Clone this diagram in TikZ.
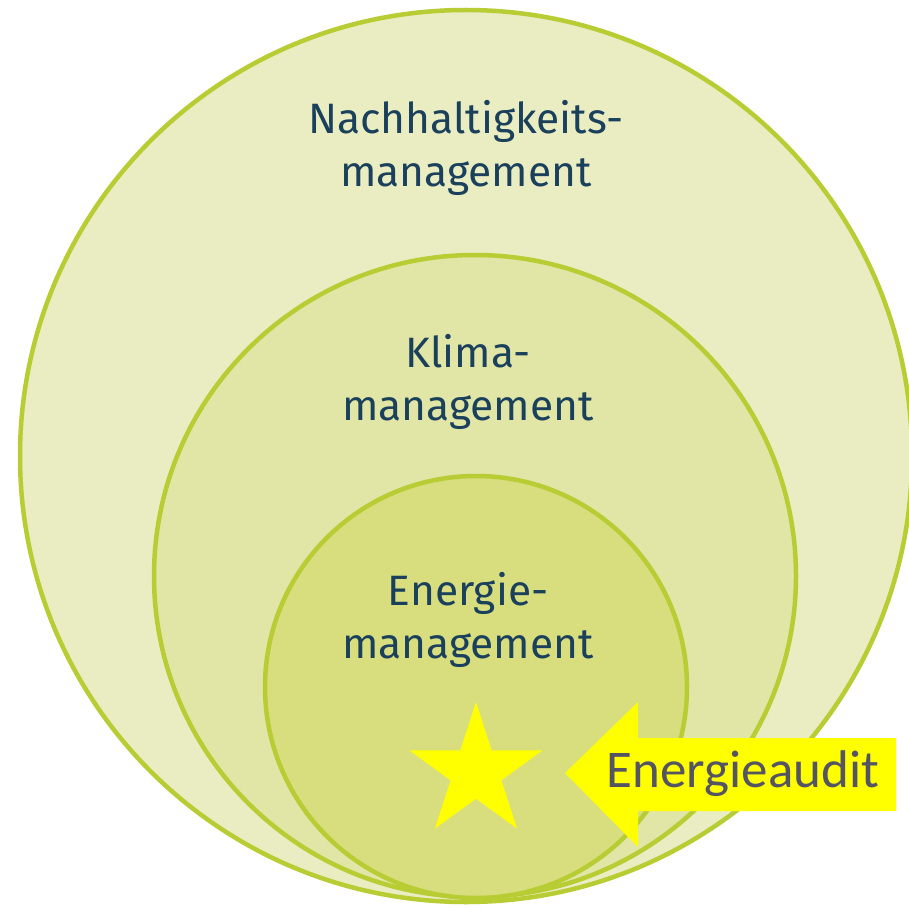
\documentclass[tikz,border=0pt]{standalone}
\usepackage{fontspec}
\setmainfont{Fira Sans}
\newfontfamily\calfont{Carlito}
\definecolor{ringline}{RGB}{184,204,52}
\definecolor{fillA}{RGB}{234,237,193}
\definecolor{fillB}{RGB}{225,230,166}
\definecolor{fillC}{RGB}{216,222,126}
\definecolor{labelcol}{RGB}{26,64,92}
\definecolor{audittext}{RGB}{84,84,98}
\definecolor{hiyellow}{RGB}{255,255,0}
\tikzset{
  ring/.style={draw=ringline, line width=4.5pt},
  ringlabel/.style={text=labelcol, align=center, font=\fontsize{42.5}{53}\selectfont, inner sep=0pt},
}
\begin{document}
\begin{tikzpicture}[x=1pt,y=-1pt]
\useasboundingbox (0,0) rectangle (909,909);
\fill[white] (0,0) rectangle (909,909);
% circles
\draw[ring, fill=fillA] (466,456) circle (446);
\draw[ring, fill=fillB] (475,576) circle (321);
\draw[ring, fill=fillC] (476,687) circle (211);
% labels (anchor = baseline of last line)
\node[ringlabel, anchor=base] (nach) at (466,187) {Nachhaltigkeits-\\management};
\node[ringlabel, anchor=base] (klima) at (468,420) {Klima-\\management};
\node[ringlabel, anchor=base] (energie) at (468,658) {Energie-\\management};
% star
\fill[hiyellow] (476,702) -- (491.7,750.4) -- (542.6,750.4) -- (501.4,780.3) -- (517.1,828.6)
  -- (476,798.7) -- (434.9,828.6) -- (450.6,780.3) -- (409.4,750.4) -- (460.3,750.4) -- cycle;
% arrow
\fill[hiyellow] (565,773) -- (638,702) -- (638,738) -- (896,738) -- (896,811) -- (638,811) -- (638,847) -- cycle;
\node[text=audittext, font=\calfont\fontsize{53}{60}\selectfont, inner sep=0pt, anchor=base] (audit) at (743,787) {Energieaudit};
\end{tikzpicture}
\end{document}
